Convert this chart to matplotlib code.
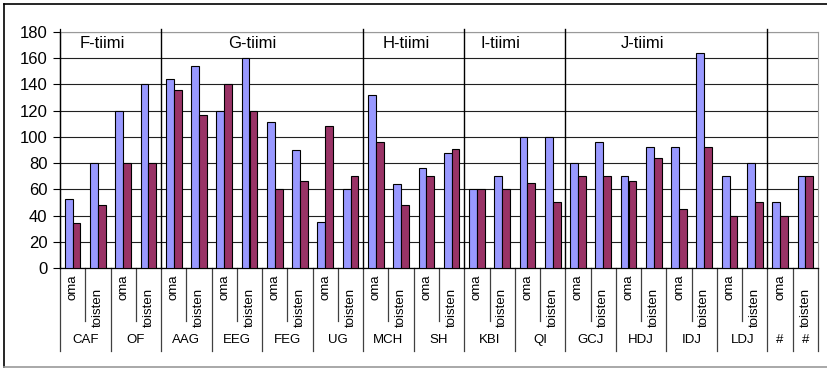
import matplotlib.pyplot as plt
import numpy as np

plt.rcParams['font.family'] = ['Liberation Sans', 'DejaVu Sans']

# tiimit ja niiden ryhmät
teams = ["F-tiimi", "G-tiimi", "H-tiimi", "I-tiimi", "J-tiimi", ""]
team_groups = [["CAF", "OF"], ["AAG", "EEG", "FEG", "UG"], ["MCH", "SH"],
               ["KBI", "QI"], ["GCJ", "HDJ", "IDJ", "LDJ"], ["#", "#"]]
sub_labels = ["oma", "toisten"]

# sarja 1 (sininen) ja sarja 2 (viininpunainen), järjestyksessä oma/toisten
blue = [53, 80, 120, 140, 144, 154, 120, 160, 111, 90, 35, 60,
        132, 64, 76, 88, 60, 70, 100, 100,
        80, 96, 70, 92, 92, 164, 70, 80,
        50, 70]
red = [34, 48, 80, 80, 136, 117, 140, 120, 60, 66, 108, 70,
       96, 48, 70, 91, 60, 60, 65, 50,
       70, 70, 66, 84, 45, 92, 40, 50,
       40, 70]

# kategoriat: jokainen ryhmä oma+toisten, paitsi viimeiset #-sarakkeet yksittäin
cats = []
groups = []
for t, gl in enumerate(team_groups):
    if teams[t] == "":
        for i, g in enumerate(gl):
            groups.append((g, len(cats), 1))
            cats.append(sub_labels[i])
    else:
        for g in gl:
            groups.append((g, len(cats), 2))
            cats.extend(sub_labels)

n = len(cats)
x = np.arange(n)

fig = plt.figure(figsize=(8.27, 3.68), dpi=100)
ax = fig.add_axes([60 / 827, 1 - 268 / 368, 758 / 827, 236 / 368])

w = 0.31
ax.bar(x - w / 2, blue, w, color="#9999FF", edgecolor="black", linewidth=0.8, zorder=3)
ax.bar(x + w / 2, red, w, color="#993366", edgecolor="black", linewidth=0.8, zorder=3)

ax.set_xlim(-0.5, n - 0.5)
ax.set_ylim(0, 180)
ax.set_yticks(np.arange(0, 181, 20))
ax.tick_params(axis="y", labelsize=12, length=5, width=0.8, pad=4)
ax.set_xticks([])
ax.yaxis.grid(True, color="#202020", linewidth=0.8, zorder=0)
ax.set_axisbelow(True)
for s in ["top", "right"]:
    ax.spines[s].set_color("#999999")
ax.spines["left"].set_linewidth(0.9)
ax.spines["bottom"].set_linewidth(0.9)

# tiimien väliset pystyviivat ja nimet
pos = 0
team_label_x = [1.16, 7.09, 13.22, 16.95, 22.57]
for t, gl in enumerate(team_groups):
    cnt = len(gl) * 2 if teams[t] else len(gl)
    if pos > 0:
        ax.plot([pos - 0.5, pos - 0.5], [0, 182.3], color="black", lw=1.0,
                clip_on=False, zorder=4)
    if teams[t]:
        ax.text(team_label_x[t], 171, teams[t], ha="center", va="center", fontsize=12)
    pos += cnt
ax.plot([-0.5, -0.5], [0, 182.3], color="black", lw=0.9, clip_on=False, zorder=4)

# alakategoriat
for i, c in enumerate(cats):
    y = -14.5 if c == "oma" else -29.7
    ax.text(i, y, c, rotation=90, ha="center", va="center", fontsize=9.5,
            clip_on=False)

# ryhmien nimet ja erottimet
for name, start, cnt in groups:
    ax.text(start + (cnt - 1) / 2, -54.9, name, ha="center", va="center",
            fontsize=9.5, clip_on=False)
    ax.plot([start - 0.5, start - 0.5], [0, -63.3], color="#404040", lw=0.9,
            clip_on=False)
    if cnt == 2:
        ax.plot([start + 0.5, start + 0.5], [0, -40.4], color="#404040", lw=0.9,
                clip_on=False)
ax.plot([n - 0.5, n - 0.5], [0, -63.3], color="#404040", lw=0.9, clip_on=False)

# kaavion reunus
fig.add_artist(plt.Line2D([3.5 / 827, 1], [1 - 4 / 368, 1 - 4 / 368], color="black", lw=1.2))
fig.add_artist(plt.Line2D([3.5 / 827, 3.5 / 827], [1 - 4 / 368, 1 - 367 / 368], color="black", lw=1.2))
fig.add_artist(plt.Line2D([3.5 / 827, 1], [1 - 366.5 / 368, 1 - 366.5 / 368], color="#999999", lw=1.2))

fig.savefig("out.png", dpi=100)
